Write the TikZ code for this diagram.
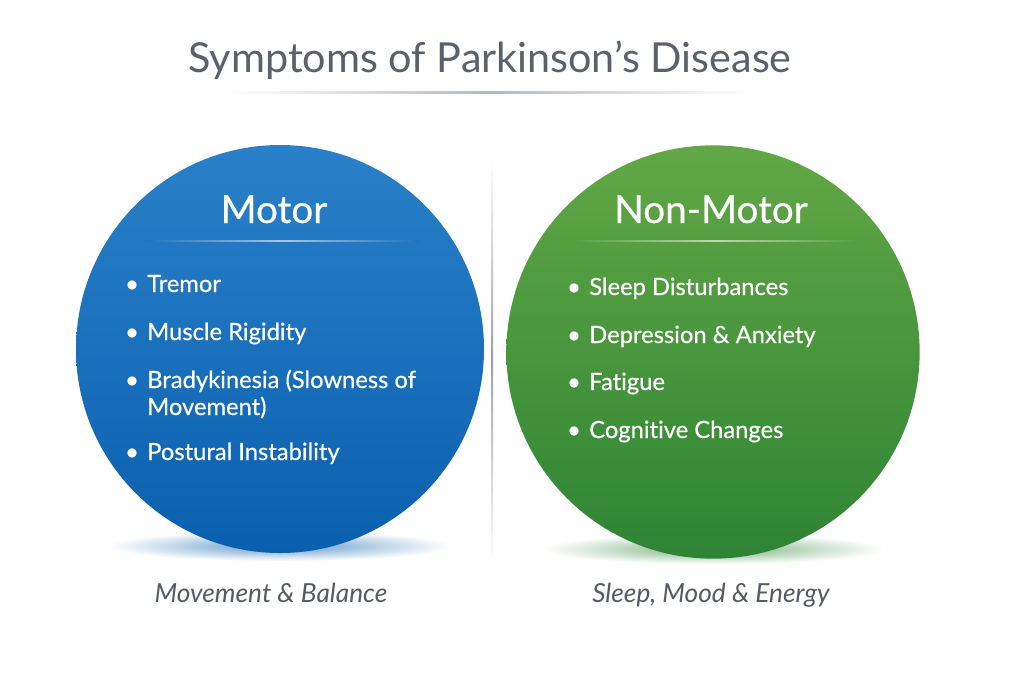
\documentclass[tikz,border=0pt]{standalone}
\usepackage{fontspec}
\setmainfont[Ligatures=NoCommon]{Lato}
\newfontfamily\medfont[FakeBold=0.5,Ligatures=NoCommon]{Lato}
\definecolor{titlegray}{HTML}{59616B}
\definecolor{capgray}{HTML}{555B63}
\definecolor{blueTop}{HTML}{2A80C8}
\definecolor{blueBot}{HTML}{0A60AE}
\definecolor{blueMid}{HTML}{1E74BE}
\definecolor{greenTop}{HTML}{62A745}
\definecolor{greenBot}{HTML}{2E8435}
\definecolor{greenMid}{HTML}{54A040}
\tikzset{
  itemtext/.style={anchor=base west, inner sep=0pt, text=white, font=\medfont\fontsize{17.8}{21}\selectfont},
  bul/.style={anchor=base, inner sep=0pt, text=white, font=\medfont\fontsize{17.8}{21}\selectfont},
  headtext/.style={anchor=base, text=white, font=\medfont\fontsize{29}{34}\selectfont},
  captext/.style={anchor=base, text=capgray, font=\itshape\fontsize{19.7}{24}\selectfont},
}
\begin{document}
\begin{tikzpicture}[x=0.75pt,y=-0.75pt]
\useasboundingbox (0,0) rectangle (1024,683);
\fill[white] (0,0) rectangle (1024,683);
% title
\node[anchor=base, text=titlegray, font=\fontsize{31}{36}\selectfont] (title) at (490,72) {Symptoms of Parkinson’s Disease};
\shade[left color=white, right color=white, middle color=titlegray!45] (230,91) rectangle (750,93.5);
% divider
\shade[top color=white, bottom color=white, middle color=titlegray!60] (491,158) rectangle (493.2,562);
% shadows
\shade[inner color=blueBot!65, outer color=white] (280,546) ellipse (172 and 15);
\shade[inner color=greenBot!65, outer color=white] (713,549) ellipse (172 and 15);
% circles
\node[circle, minimum size=306pt, inner sep=0pt, top color=blueTop, bottom color=blueBot] (motor) at (280,349) {};
\node[circle, minimum size=310pt, inner sep=0pt, top color=greenTop, bottom color=greenBot] (nonmotor) at (713,352) {};
% headings
\node[headtext] (mh) at (274,223) {Motor};
\node[headtext] (nh) at (711,223) {Non-Motor};
\shade[left color=blueMid, right color=blueMid, middle color=white!60!blueMid] (145,240.4) rectangle (420,241.8);
\shade[left color=greenMid, right color=greenMid, middle color=white!60!greenMid] (572,240.4) rectangle (858,241.8);
% motor items
\node[bul] (b1) at (132,292) {•};
\node[itemtext] (m1) at (147,292) {Tremor};
\node[bul] (b2) at (132,340) {•};
\node[itemtext] (m2) at (147,340) {Muscle Rigidity};
\node[bul] (b3) at (132,388) {•};
\node[itemtext] (m3) at (147,388) {Bradykinesia (Slowness of};
\node[itemtext] (m3b) at (147,415) {Movement)};
\node[bul] (b4) at (132,460) {•};
\node[itemtext] (m4) at (147,460) {Postural Instability};
% non-motor items
\node[bul] (c1) at (574,295) {•};
\node[itemtext] (n1) at (589,295) {Sleep Disturbances};
\node[bul] (c2) at (574,343) {•};
\node[itemtext] (n2) at (589,343) {Depression \& Anxiety};
\node[bul] (c3) at (574,390) {•};
\node[itemtext] (n3) at (589,390) {Fatigue};
\node[bul] (c4) at (574,438) {•};
\node[itemtext] (n4) at (589,438) {Cognitive Changes};
% captions
\node[captext] (cap1) at (271,602) {Movement \& Balance};
\node[captext] (cap2) at (711,602) {Sleep, Mood \& Energy};
\end{tikzpicture}
\end{document}
